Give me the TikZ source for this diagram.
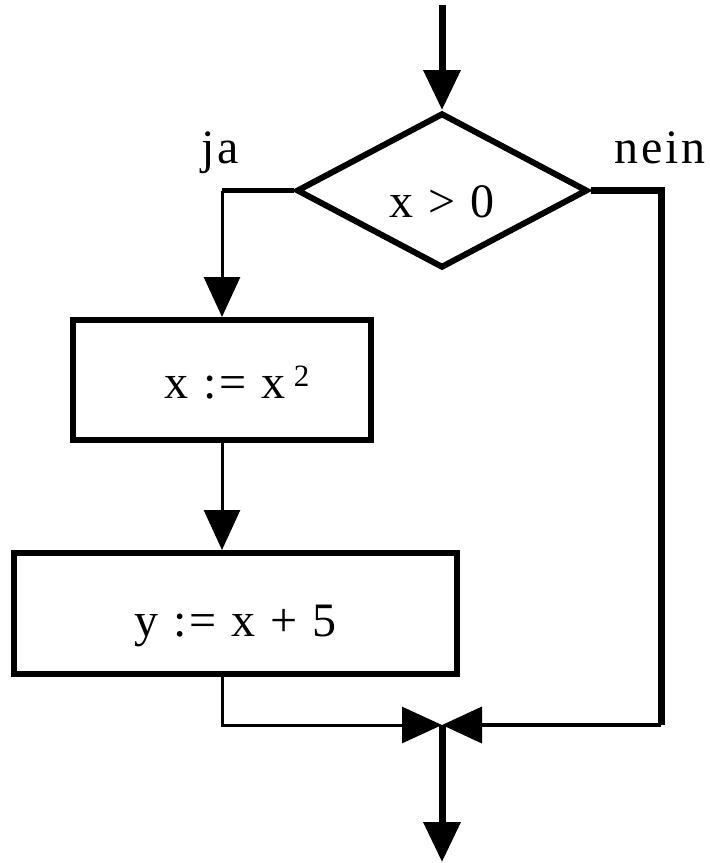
\documentclass[tikz,border=0pt]{standalone}
\usepackage{fontspec}
\setmainfont{Liberation Serif}[LetterSpace=6]
\usetikzlibrary{shapes.geometric,arrows.meta}
\begin{document}
\begin{tikzpicture}[x=1pt,y=-1pt,
  txt/.style={font=\fontsize{48}{56}\selectfont},
  procbox/.style={draw,line width=6pt,inner sep=0pt,txt},
  decbox/.style={draw,diamond,line width=6pt,inner sep=0pt,txt},
  tip/.style={-{Triangle[length=40pt,width=36pt]}},
  thick7/.style={line width=7pt},
  med5/.style={line width=5pt},
  thin3/.style={line width=3pt},
  lab/.style={txt,anchor=base}]
\useasboundingbox (0,0) rectangle (710,863);
% nodes
\node[decbox,minimum width=291pt,minimum height=155pt,aspect=1.88,
      text height=53pt,text depth=0pt] (d) at (442,190.5) {x > 0};
\node[procbox,minimum width=298pt,minimum height=120pt,
      text height=36pt,text depth=0pt] (b1) at (222,380)
      {\hspace*{30pt}x := x\hspace{8pt}\raisebox{12pt}{\fontsize{31}{32}\selectfont 2}};
\node[procbox,minimum width=443pt,minimum height=121pt,
      text height=46pt,text depth=0pt] (b2) at (235.5,613.5) {y := x + 5};
\node[lab] (ja) at (220,163) {ja};
\node[lab] (nein) at (660,163) {nein};
\coordinate (in) at (442,5);
\coordinate (j) at (442,725);
\coordinate (r) at (661,725);
\coordinate (out) at (442,862);
% connectors
\draw[thick7,tip] (in) -- (d.north);
\draw[med5] (d.west) -- (d.west -| b1.north);
\draw[thin3,tip] (d.west -| b1.north) -- (b1.north);
\draw[thin3,tip] (b1.south) -- (b1.south |- b2.north);
\draw[thin3,tip] (b1.south |- b2.south) |- (j);
\draw[thick7] (d.east) -| (r);
\draw[line width=4pt,tip] (r) -- (j);
\draw[thick7,tip] (j) -- (out);
\end{tikzpicture}
\end{document}
